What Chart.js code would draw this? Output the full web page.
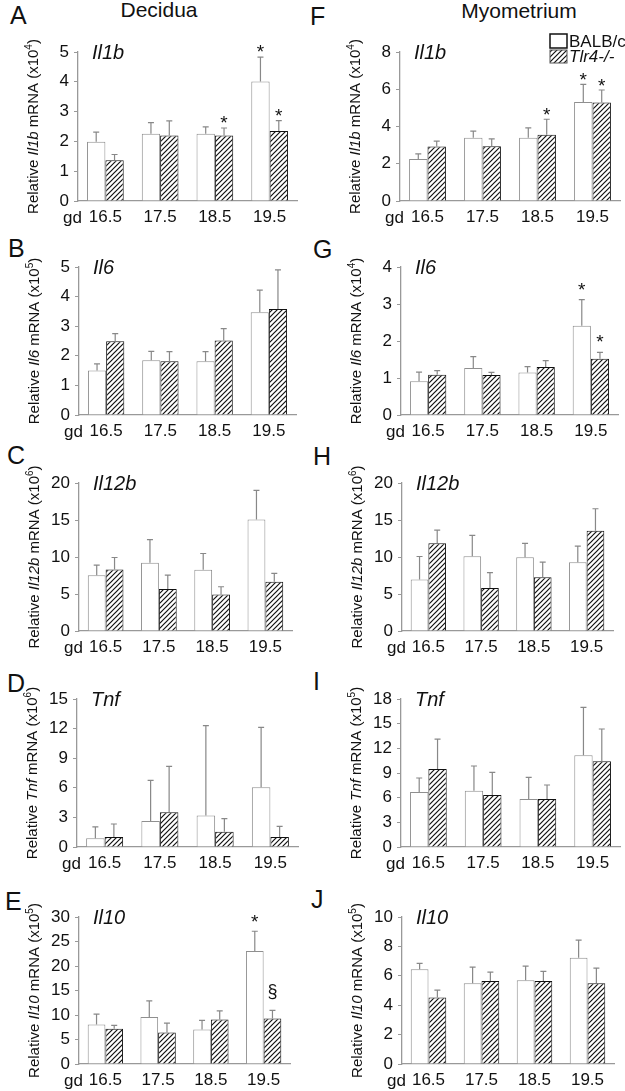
<!DOCTYPE html>
<html>
<head>
<meta charset="utf-8">
<script src="https://cdn.jsdelivr.net/npm/chart.js@4.4.1/dist/chart.umd.min.js"></script>
<style>
body { margin: 0; background: #fff; width: 625px; height: 1091px; position: relative; overflow: hidden; font-family: "Liberation Sans", Arial, sans-serif; color: #111; }
.lab { position: absolute; font-size: 25px; line-height: 25px; }
.hd { position: absolute; font-size: 21px; line-height: 21px; width: 200px; text-align: center; }
canvas { position: absolute; }
</style>
</head>
<body>
<div class="hd" style="left:59px;top:-1px">Decidua</div>
<div class="hd" style="left:419px;top:0px">Myometrium</div>
<div class="lab" style="left:10px;top:3px">A</div>
<div class="lab" style="left:8px;top:236px">B</div>
<div class="lab" style="left:7px;top:443px">C</div>
<div class="lab" style="left:7px;top:671px">D</div>
<div class="lab" style="left:5px;top:889px">E</div>
<div class="lab" style="left:310px;top:4px">F</div>
<div class="lab" style="left:313px;top:237px">G</div>
<div class="lab" style="left:313px;top:444px">H</div>
<div class="lab" style="left:313px;top:669px">I</div>
<div class="lab" style="left:311px;top:887px">J</div>
<div id="figure"></div>
<script>
var days = ['16.5', '17.5', '18.5', '19.5']

// decidua
var decIl1bWt = [1.99, 2.26, 2.26, 4.01]
var decIl1bWtSem = [0.32, 0.37, 0.23, 0.82]
var decIl1bKo = [1.37, 2.20, 2.20, 2.35]
var decIl1bKoSem = [0.19, 0.49, 0.25, 0.35]
var decIl1bWtMark = ['', '', '', '*']
var decIl1bKoMark = ['', '', '*', '*']

var decIl6Wt = [1.50, 1.85, 1.82, 3.47]
var decIl6WtSem = [0.23, 0.30, 0.32, 0.75]
var decIl6Ko = [2.49, 1.82, 2.52, 3.58]
var decIl6KoSem = [0.26, 0.32, 0.40, 1.32]

var decIl12bWt = [7.55, 9.21, 8.27, 15.06]
var decIl12bWtSem = [1.35, 3.15, 2.20, 3.94]
var decIl12bKo = [8.31, 5.66, 4.94, 6.65]
var decIl12bKoSem = [1.62, 1.89, 1.04, 1.13]

var decTnfWt = [0.88, 2.64, 3.18, 6.05]
var decTnfWtSem = [1.15, 4.12, 9.12, 6.08]
var decTnfKo = [1.01, 3.51, 1.55, 1.01]
var decTnfKoSem = [1.32, 4.67, 1.32, 1.08]

var decIl10Wt = [8.08, 9.57, 7.06, 23.08]
var decIl10WtSem = [2.10, 3.33, 1.83, 4.01]
var decIl10Ko = [7.20, 6.45, 9.10, 9.30]
var decIl10KoSem = [0.68, 1.90, 1.76, 1.63]
var decIl10WtMark = ['', '', '', '*']
var decIl10KoMark = ['', '', '', '§']

// myometrium
var myoIl1bWt = [2.26, 3.39, 3.39, 5.32]
var myoIl1bWtSem = [0.27, 0.36, 0.54, 0.94]
var myoIl1bKo = [2.92, 2.94, 3.56, 5.29]
var myoIl1bKoSem = [0.29, 0.40, 0.83, 0.67]
var myoIl1bWtMark = ['', '', '', '*']
var myoIl1bKoMark = ['', '', '*', '*']

var myoIl6Wt = [0.91, 1.27, 1.15, 2.41]
var myoIl6WtSem = [0.25, 0.31, 0.16, 0.71]
var myoIl6Ko = [1.09, 1.08, 1.30, 1.52]
var myoIl6KoSem = [0.11, 0.07, 0.17, 0.17]
var myoIl6WtMark = ['', '', '', '*']
var myoIl6KoMark = ['', '', '', '*']

var myoIl12bWt = [6.95, 10.11, 9.98, 9.30]
var myoIl12bWtSem = [3.12, 2.80, 1.85, 2.17]
var myoIl12bKo = [11.87, 5.82, 7.27, 13.54]
var myoIl12bKoSem = [1.76, 2.08, 2.03, 2.98]

var myoTnfWt = [6.69, 6.85, 5.84, 11.15]
var myoTnfWtSem = [1.70, 3.00, 2.63, 5.83]
var myoTnfKo = [9.49, 6.32, 5.84, 10.42]
var myoTnfKoSem = [3.64, 2.76, 1.70, 3.93]

var myoIl10Wt = [6.45, 5.50, 5.70, 7.23]
var myoIl10WtSem = [0.39, 1.09, 0.96, 1.20]
var myoIl10Ko = [4.52, 5.64, 5.64, 5.50]
var myoIl10KoSem = [0.50, 0.61, 0.66, 1.02]

var noMark = ['', '', '', '']

var FONT = '"Liberation Sans", Arial, sans-serif'
var axisGray = '#999'
var rowTop = [52, 267, 483, 699, 917]
var rowBottom = [201, 415, 631, 847, 1064]

var panels = [
    {gene: 'Il1b', exp: '4', max: 5, step: 1, wt: decIl1bWt, wtSem: decIl1bWtSem, ko: decIl1bKo, koSem: decIl1bKoSem, wtMark: decIl1bWtMark, koMark: decIl1bKoMark, col: 0, row: 0, axisX: 78, right: 297, gap: 10},
    {gene: 'Il6', exp: '5', max: 5, step: 1, wt: decIl6Wt, wtSem: decIl6WtSem, ko: decIl6Ko, koSem: decIl6KoSem, wtMark: noMark, koMark: noMark, col: 0, row: 1, axisX: 79, right: 296, gap: 10},
    {gene: 'Il12b', exp: '6', max: 20, step: 5, wt: decIl12bWt, wtSem: decIl12bWtSem, ko: decIl12bKo, koSem: decIl12bKoSem, wtMark: noMark, koMark: noMark, col: 0, row: 2, axisX: 79, right: 292, gap: 10},
    {gene: 'Tnf', exp: '6', max: 15, step: 3, wt: decTnfWt, wtSem: decTnfWtSem, ko: decTnfKo, koSem: decTnfKoSem, wtMark: noMark, koMark: noMark, col: 0, row: 3, axisX: 77, right: 298, gap: 10},
    {gene: 'Il10', exp: '5', max: 30, step: 5, wt: decIl10Wt, wtSem: decIl10WtSem, ko: decIl10Ko, koSem: decIl10KoSem, wtMark: decIl10WtMark, koMark: decIl10KoMark, col: 0, row: 4, axisX: 79, right: 290, gap: 14},
    {gene: 'Il1b', exp: '4', max: 8, step: 2, wt: myoIl1bWt, wtSem: myoIl1bWtSem, ko: myoIl1bKo, koSem: myoIl1bKoSem, wtMark: myoIl1bWtMark, koMark: myoIl1bKoMark, col: 1, row: 0, axisX: 400, right: 620, gap: 9, legend: true},
    {gene: 'Il6', exp: '4', max: 4, step: 1, wt: myoIl6Wt, wtSem: myoIl6WtSem, ko: myoIl6Ko, koSem: myoIl6KoSem, wtMark: myoIl6WtMark, koMark: myoIl6KoMark, col: 1, row: 1, axisX: 401, right: 618, gap: 15},
    {gene: 'Il12b', exp: '6', max: 20, step: 5, wt: myoIl12bWt, wtSem: myoIl12bWtSem, ko: myoIl12bKo, koSem: myoIl12bKoSem, wtMark: noMark, koMark: noMark, col: 1, row: 2, axisX: 402, right: 613, gap: 10},
    {gene: 'Tnf', exp: '5', max: 18, step: 3, wt: myoTnfWt, wtSem: myoTnfWtSem, ko: myoTnfKo, koSem: myoTnfKoSem, wtMark: noMark, koMark: noMark, col: 1, row: 3, axisX: 401, right: 620, gap: 10},
    {gene: 'Il10', exp: '5', max: 10, step: 2, wt: myoIl10Wt, wtSem: myoIl10WtSem, ko: myoIl10Ko, koSem: myoIl10KoSem, wtMark: noMark, koMark: noMark, col: 1, row: 4, axisX: 402, right: 614, gap: 10}
]

// diagonal hatch for the knockout bars
function makeHatch() {
    var c = document.createElement('canvas')
    c.width = 5
    c.height = 5
    var g = c.getContext('2d')
    g.fillStyle = '#fff'
    g.fillRect(0, 0, 5, 5)
    g.strokeStyle = '#111'
    g.lineWidth = 1.2
    g.beginPath()
    g.moveTo(-1, 6); g.lineTo(6, -1)
    g.moveTo(-1, 1); g.lineTo(1, -1)
    g.moveTo(4, 6); g.lineTo(6, 4)
    g.stroke()
    return g.createPattern(c, 'repeat')
}
var hatch = makeHatch()

function makeExtras(p, left, top) {
    return {
        id: 'extras',
        afterDatasetsDraw: function(chart) {
            var ctx = chart.ctx
            var y = chart.scales.y
            ctx.save()
            chart.data.datasets.forEach(function(ds, i) {
                chart.getDatasetMeta(i).data.forEach(function(bar, j) {
                    var cap = y.getPixelForValue(ds.data[j] + ds.sem[j])
                    ctx.strokeStyle = '#888'
                    ctx.lineWidth = 1.2
                    ctx.beginPath()
                    ctx.moveTo(bar.x, bar.y)
                    ctx.lineTo(bar.x, cap)
                    ctx.moveTo(bar.x - 3, cap)
                    ctx.lineTo(bar.x + 3, cap)
                    ctx.stroke()
                    var m = ds.marks[j]
                    if (m) {
                        ctx.fillStyle = '#111'
                        ctx.textAlign = 'center'
                        ctx.textBaseline = 'alphabetic'
                        if (m === '*') {
                            ctx.font = '19px ' + FONT
                            ctx.fillText(m, bar.x, cap - p.gap + 11)
                        } else {
                            ctx.font = '18px ' + FONT
                            ctx.fillText(m, bar.x, cap - 18 + 5)
                        }
                    }
                })
            })
            ctx.restore()
        },
        afterDraw: function(chart) {
            var ctx = chart.ctx
            var a = chart.chartArea
            ctx.save()
            ctx.fillStyle = '#111'
            // gene name in the corner
            ctx.font = 'italic 20px ' + FONT
            ctx.textAlign = 'left'
            ctx.textBaseline = 'alphabetic'
            ctx.fillText(p.gene, a.left + 14, a.top + 7)
            // gd before the day labels
            ctx.font = '17px ' + FONT
            ctx.textAlign = 'right'
            ctx.fillText('gd', a.left + 4, a.bottom + 22)
            // rotated axis title with italic gene and superscript
            var parts = [
                ['Relative ', '15px ', 0],
                [p.gene, 'italic 15px ', 0],
                [' mRNA (x10', '15px ', 0],
                [p.exp, '10px ', -5],
                [')', '15px ', 0]
            ]
            var total = 0
            parts.forEach(function(pt) {
                ctx.font = pt[1] + FONT
                pt.push(ctx.measureText(pt[0]).width)
                total += pt[3]
            })
            ctx.translate(a.left - 44, (a.top + a.bottom) / 2)
            ctx.rotate(-Math.PI / 2)
            ctx.textAlign = 'left'
            ctx.textBaseline = 'middle'
            var x = -total / 2
            parts.forEach(function(pt) {
                ctx.font = pt[1] + FONT
                ctx.fillText(pt[0], x, pt[2])
                x += pt[3]
            })
            ctx.restore()
            if (p.legend) {
                ctx.save()
                var bx = 550 - left, by = 34 - top
                ctx.fillStyle = '#fff'
                ctx.fillRect(bx, by, 17, 14)
                ctx.strokeStyle = '#111'
                ctx.lineWidth = 1.5
                ctx.strokeRect(bx, by, 17, 14)
                ctx.fillStyle = hatch
                ctx.fillRect(bx, by + 16, 17, 13)
                ctx.strokeStyle = '#555'
                ctx.lineWidth = 1
                ctx.strokeRect(bx, by + 16, 17, 13)
                ctx.fillStyle = '#111'
                ctx.textAlign = 'left'
                ctx.textBaseline = 'alphabetic'
                ctx.font = '17px ' + FONT
                ctx.fillText('BALB/c', bx + 19, by + 13)
                ctx.font = 'italic 17px ' + FONT
                ctx.fillText('Tlr4-/-', bx + 19, by + 28)
                ctx.restore()
            }
        }
    }
}

var figure = document.getElementById('figure')
panels.forEach(function(p) {
    var left = p.col ? 310 : 0
    var width = p.col ? 315 : 310
    var top = rowTop[p.row] - 45
    var height = rowBottom[p.row] - rowTop[p.row] + 75
    var canvas = document.createElement('canvas')
    canvas.width = width
    canvas.height = height
    canvas.style.left = left + 'px'
    canvas.style.top = top + 'px'
    canvas.style.width = width + 'px'
    canvas.style.height = height + 'px'
    figure.appendChild(canvas)

    new Chart(canvas, {
        type: 'bar',
        data: {
            labels: days,
            datasets: [
                {label: 'BALB/c', data: p.wt, sem: p.wtSem, marks: p.wtMark, backgroundColor: '#fff', borderColor: '#8f8f8f', borderWidth: 1},
                {label: 'Tlr4-/-', data: p.ko, sem: p.koSem, marks: p.koMark, backgroundColor: hatch, borderColor: '#111', borderWidth: 1}
            ]
        },
        options: {
            responsive: false,
            animation: false,
            devicePixelRatio: 1,
            layout: {padding: {top: 45, left: 0, bottom: 0, right: left + width - p.right}},
            categoryPercentage: 0.67,
            barPercentage: 1,
            plugins: {legend: {display: false}, tooltip: {enabled: false}},
            scales: {
                x: {
                    grid: {display: true, drawOnChartArea: false, drawTicks: false},
                    border: {color: axisGray, width: 1.3},
                    ticks: {color: '#111', font: {family: FONT, size: 17}, padding: 6},
                    afterFit: function(s) { s.height = 30 }
                },
                y: {
                    min: 0,
                    max: p.max,
                    ticks: {stepSize: p.step, color: '#111', font: {family: FONT, size: 17}, padding: 5},
                    grid: {drawOnChartArea: false, tickLength: 4, color: axisGray},
                    border: {color: axisGray, width: 1.3},
                    afterFit: function(s) { s.width = p.axisX - left }
                }
            }
        },
        plugins: [makeExtras(p, left, top)]
    })
})
</script>
</body>
</html>
